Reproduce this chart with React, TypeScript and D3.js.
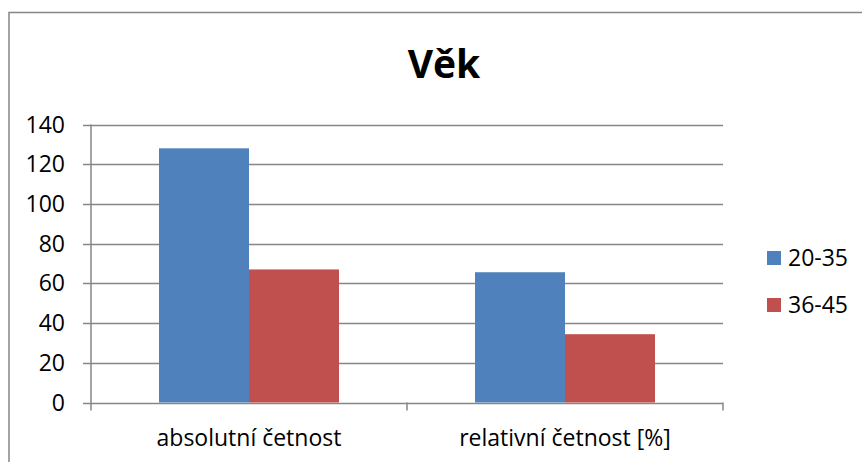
import React from "react";
import * as d3 from "d3";

const categories = ["absolutní četnost", "relativní četnost [%]"];
const seriesNames = ["20-35", "36-45"];
const series2035 = [128, 65.6];
const series3645 = [67, 34.4];
const yTicks = [0, 20, 40, 60, 80, 100, 120, 140];
const colors = ["#4F81BD", "#C0504D"];

const W = 862;
const H = 462;
const FONT = "'Open Sans', 'Liberation Sans', sans-serif";

export default function App() {
  const left = 91, right = 723, top = 124.5, bottom = 402.5;
  const y = d3.scaleLinear().domain([0, 140]).range([bottom, top]);
  const x0 = d3.scaleBand<string>().domain(categories).range([left, right]).padding(0);
  const bw = x0.bandwidth();
  const x1 = d3.scaleBand<string>().domain(seriesNames).range([68, bw - 68]).padding(0);
  const data = [series2035, series3645];

  return (
    <svg width={W} height={H} style={{ position: "absolute", left: 0, top: 0, background: "#fff" }}>
      <rect x={9} y={12.5} width={900} height={500} fill="#fff" stroke="#868686" strokeWidth={1.5} />
      <text x={444} y={78} textAnchor="middle" fontFamily={FONT} fontWeight="bold" fontSize={39} fill="#000">
        Věk
      </text>
      {yTicks.map((t) => (
        <g key={t}>
          <line x1={left - 8} x2={right} y1={Math.round(y(t)) + 0.5} y2={Math.round(y(t)) + 0.5} stroke="#868686" strokeWidth={1.5} />
          <text x={left - 26} y={y(t) + 8} textAnchor="end" fontFamily={FONT} fontSize={23} fill="#000">
            {t}
          </text>
        </g>
      ))}
      <line x1={left} x2={left} y1={top} y2={bottom + 8} stroke="#868686" strokeWidth={1.5} />
      {categories.map((c, i) => (
        <line key={"tk" + i} x1={x0(c)! + bw} x2={x0(c)! + bw} y1={bottom} y2={bottom + 8} stroke="#868686" strokeWidth={1.5} />
      ))}
      {categories.map((c, i) =>
        seriesNames.map((s, j) => (
          <rect
            key={c + s}
            x={x0(c)! + x1(s)!}
            y={y(data[j][i])}
            width={x1.bandwidth()}
            height={bottom - y(data[j][i])}
            fill={colors[j]}
          />
        ))
      )}
      {categories.map((c) => (
        <text key={"cl" + c} x={x0(c)! + bw / 2} y={446} textAnchor="middle" fontFamily={FONT} fontSize={23} fill="#000">
          {c}
        </text>
      ))}
      {seriesNames.map((s, j) => (
        <g key={"lg" + s}>
          <rect x={767} y={251 + j * 47} width={14} height={14} fill={colors[j]} />
          <text x={788} y={266 + j * 47} fontFamily={FONT} fontSize={23} fill="#000">
            {s}
          </text>
        </g>
      ))}
    </svg>
  );
}
